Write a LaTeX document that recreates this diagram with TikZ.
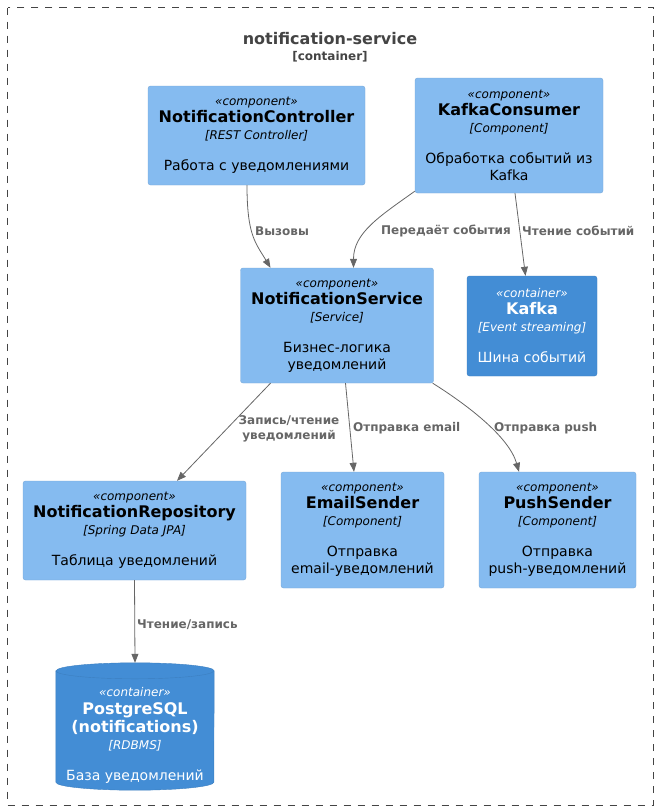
\documentclass[tikz,border=0pt]{standalone}
\usepackage{fontspec}
\setmainfont{DejaVu Sans}
\usetikzlibrary{arrows.meta, calc}
\definecolor{compfill}{HTML}{85BBF0}
\definecolor{compline}{HTML}{78A8D8}
\definecolor{contfill}{HTML}{438DD5}
\definecolor{contline}{HTML}{3C7FC0}
\definecolor{relgray}{HTML}{666666}
\definecolor{framegray}{HTML}{444444}
\newcommand{\stereo}[1]{{\fontsize{12}{17}\selectfont\itshape «#1»}}
\newcommand{\cname}[1]{{\fontsize{16}{17}\selectfont\bfseries #1}}
\newcommand{\ctech}[1]{{\fontsize{12}{17}\selectfont\itshape [#1]}}
\tikzset{
  comp/.style={rectangle, rounded corners=2.5pt, draw=compline, fill=compfill, text=black,
    align=center, inner sep=0pt, font=\fontsize{14}{17}\selectfont},
  cont/.style={comp, draw=contline, fill=contfill, text=white},
  rel/.style={draw=relgray, line width=0.8pt, -{Triangle[length=9pt,width=7pt]}},
  rellabel/.style={text=relgray, inner sep=0pt, align=center, font=\fontsize{12}{15}\selectfont\bfseries}
}

\begin{document}
\begin{tikzpicture}[x=1pt, y=1pt]
\useasboundingbox (0,0) rectangle (658,-811);
\draw[framegray, line width=0.8pt, dash pattern=on 7pt off 7pt] (7.5,-7.5) rectangle (653,-805.5);
\node[text=framegray, align=center, font=\fontsize{16}{16}\selectfont\bfseries] (title) at (330,-47)
  {notification-service\\{\fontsize{12}{16}\selectfont [container]}};

\node[comp, minimum width=217pt, minimum height=99pt] (ctrl) at (256.5,-135.5)
  {\stereo{component}\\\cname{NotificationController}\\\ctech{REST Controller}\\[14pt]Работа с уведомлениями};
\node[comp, minimum width=188pt, minimum height=115pt] (kc) at (509,-135.5)
  {\stereo{component}\\\cname{KafkaConsumer}\\\ctech{Component}\\[14pt]Обработка событий из\\Kafka};
\node[comp, minimum width=193pt, minimum height=115pt] (svc) at (337,-325.5)
  {\stereo{component}\\\cname{NotificationService}\\\ctech{Service}\\[14pt]Бизнес-логика\\уведомлений};
\node[cont, minimum width=130pt, minimum height=100pt] (kafka) at (532,-326)
  {\stereo{container}\\\cname{Kafka}\\\ctech{Event streaming}\\[14pt]Шина событий};
\node[comp, minimum width=223pt, minimum height=99pt] (repo) at (134.5,-530.5)
  {\stereo{component}\\\cname{NotificationRepository}\\\ctech{Spring Data JPA}\\[14pt]Таблица уведомлений};
\node[comp, minimum width=163pt, minimum height=116pt] (email) at (362.5,-530)
  {\stereo{component}\\\cname{EmailSender}\\\ctech{Component}\\[14pt]Отправка\\email-уведомлений};
\node[comp, minimum width=157pt, minimum height=116pt] (push) at (557.5,-530)
  {\stereo{component}\\\cname{PushSender}\\\ctech{Component}\\[14pt]Отправка\\push-уведомлений};

% database cylinder
\node[minimum width=158pt, minimum height=127pt, inner sep=0pt] (db) at (135,-726.5) {};
\path[fill=contfill, draw=contline] ([yshift=-8pt]db.north west) -- ([yshift=8pt]db.south west)
  arc[start angle=180, end angle=360, x radius=79pt, y radius=8pt]
  -- ([yshift=-8pt]db.north east)
  arc[start angle=0, end angle=180, x radius=79pt, y radius=8pt] -- cycle;
\draw[contline] ([yshift=-8pt]db.north west) arc[start angle=180, end angle=360, x radius=79pt, y radius=8pt];
\node[text=white, align=center, inner sep=0pt, font=\fontsize{14}{17}\selectfont] (dbtext) at ([yshift=-9pt]db.center)
  {\stereo{container}\\[1pt]\cname{PostgreSQL}\\[1pt]\cname{(notifications)}\\\ctech{RDBMS}\\[14pt]База уведомлений};

\draw[rel] ([xshift=-9.5pt]ctrl.south) .. controls +(0,-50) and +(-15,25) .. ([xshift=-66.5pt]svc.north);
\node[rellabel, anchor=west] (l1) at (255,-231) {Вызовы};
\draw[rel] ([yshift=2pt]kc.south west) .. controls +(-35,-25) and +(0,35) .. ([xshift=16.5pt]svc.north);
\node[rellabel, anchor=west] (l2) at (381,-231) {Передаёт события};
\draw[rel] ([xshift=6pt]kc.south) -- ([xshift=-6.5pt]kafka.north);
\node[rellabel, anchor=west] (l3) at (522,-231) {Чтение событий};
\draw[rel] ([xshift=-66.5pt]svc.south) -- ([xshift=42.5pt]repo.north);
\node[rellabel] (l4) at (289,-428.5) {Запись/чтение\\уведомлений};
\draw[rel] ([xshift=8.5pt]svc.south) -- ([xshift=-8.5pt]email.north);
\node[rellabel, anchor=west] (l5) at (353,-428) {Отправка email};
\draw[rel] ([xshift=-1pt]svc.south east) .. controls +(35,-22) and +(-10,35) .. ([xshift=-38.5pt]push.north);
\node[rellabel, anchor=west] (l6) at (494,-428) {Отправка push};
\draw[rel] (repo.south) -- (db.north);
\node[rellabel, anchor=west] (l7) at (137,-625) {Чтение/запись};
\end{tikzpicture}
\end{document}
